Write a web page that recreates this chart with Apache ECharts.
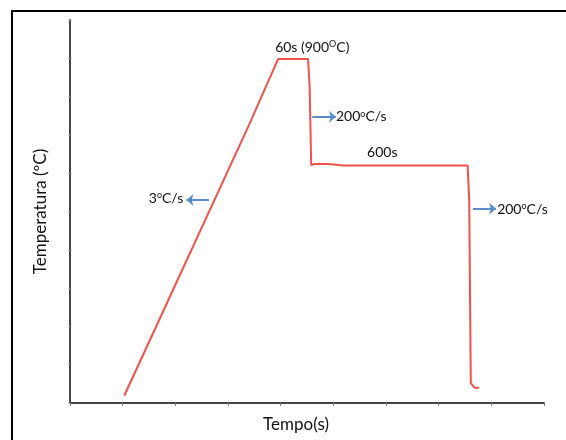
<!DOCTYPE html>
<html>
<head>
<meta charset="utf-8">
<script src="https://cdn.jsdelivr.net/npm/echarts@6/dist/echarts.min.js"></script>
<style>html,body{margin:0;padding:0;background:#fff;}#c{width:566px;height:440px;}</style>
</head>
<body>
<div id="c"></div>
<script>
// Temperature profile (arbitrary units)
const timeValues = [1.03, 3.40, 3.95, 4.52, 4.55, 4.58, 4.61, 4.64, 4.91, 5.19, 7.55, 7.58, 7.61, 7.68, 7.77];
const tempValues = [0.19, 7.26, 8.98, 8.98, 8.25, 6.21, 6.16, 6.24, 6.24, 6.20, 6.20, 5.30, 0.52, 0.40, 0.40];

// Arrows: [x0, y0, x1, y1]
const arrowFrom = [[4.60, 7.475], [2.64, 5.30], [7.65, 5.07]];
const arrowTo   = [[5.05, 7.475], [2.21, 5.30], [8.09, 5.07]];

// Text annotations
const noteTexts = ['60s (900{sup|O}C)', '200{s|o}C/s', '600s', '3{s|o}C/s', '200{s|o}C/s'];
const noteCoords = [[4.60, 9.29], [5.05, 7.47], [5.93, 6.55], [2.15, 5.35], [8.11, 5.05]];
const notePos = ['inside', 'right', 'inside', 'left', 'right'];

const FONT = 'Lato';
const chart = echarts.init(document.getElementById('c'), null, {renderer: 'canvas'});

const rich = {
  sup: {fontSize: 9, fontFamily: FONT, color: '#111', padding: [0, 0, 7, 0]},
  s: {fontSize: 9, fontFamily: FONT, color: '#111', padding: [0, 0, 6, 0]}
};

const option = {
  backgroundColor: '#fff',
  animation: false,
  grid: {left: 70, right: 22, top: 20, bottom: 37},
  xAxis: {
    type: 'value', min: 0, max: 9, interval: 1,
    name: 'Tempo(s)', nameLocation: 'middle', nameGap: 13,
    nameTextStyle: {fontFamily: FONT, fontSize: 17, color: '#111', padding: [0, 22, 0, 0]},
    axisLine: {lineStyle: {color: '#444', width: 2}},
    axisTick: {show: true, length: 3, lineStyle: {color: '#777', width: 1}},
    axisLabel: {show: false},
    splitLine: {show: false}
  },
  yAxis: {
    type: 'value', min: 0, max: 10, interval: 1,
    name: 'Temperatura (\u00baC)', nameLocation: 'middle', nameGap: 21,
    nameTextStyle: {fontFamily: FONT, fontSize: 17, color: '#111'},
    axisLine: {show: true, lineStyle: {color: '#444', width: 2}},
    axisTick: {show: true, length: 2, lineStyle: {color: '#bbb', width: 1}},
    axisLabel: {show: false},
    splitLine: {show: false}
  },
  graphic: [{
    type: 'rect', shape: {x: 12, y: 11, width: 700, height: 600},
    style: {fill: 'none', stroke: '#000', lineWidth: 2}, silent: true
  }],
  series: [{
    type: 'line',
    data: timeValues.map((t, i) => [t, tempValues[i]]),
    showSymbol: false,
    lineStyle: {color: '#f0524a', width: 2},
    markLine: {
      silent: true,
      symbol: ['none', 'arrow'],
      symbolSize: [9, 7],
      label: {show: false},
      lineStyle: {color: '#5b8bc9', width: 2, type: 'solid'},
      data: arrowFrom.map((a, i) => [{coord: a}, {coord: arrowTo[i]}])
    },
    markPoint: {
      silent: true,
      symbol: 'circle', symbolSize: 0,
      data: noteCoords.map((c, i) => ({
        coord: c,
        label: {
          show: true, position: notePos[i], distance: 0,
          formatter: noteTexts[i],
          fontFamily: FONT, fontSize: 14, color: '#111',
          rich: rich
        }
      }))
    }
  }]
};
chart.setOption(option);
</script>
</body>
</html>
